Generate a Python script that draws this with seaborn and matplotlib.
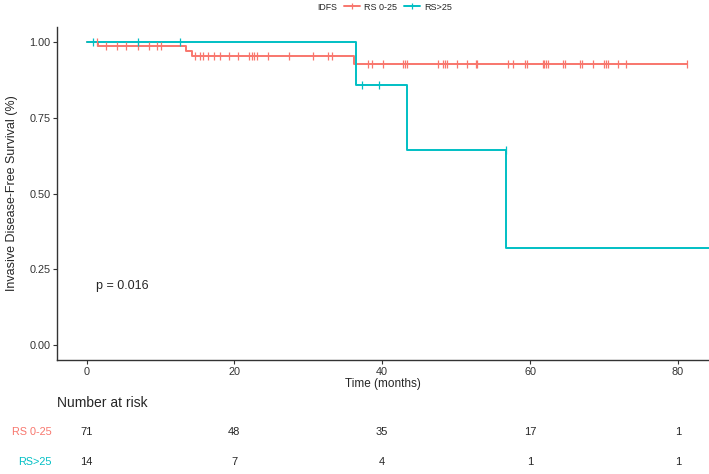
import numpy as np
import pandas as pd
import matplotlib.pyplot as plt
import matplotlib.transforms as mtransforms
from matplotlib.lines import Line2D
import seaborn as sns

# Kaplan-Meier step curves (months, survival)
groups = ["RS 0-25", "RS>25"]
colors = ["#F8766D", "#00BFC4"]

low_times = [0, 1.6, 13.4, 14.3, 36.2, 81.2]
low_surv = [1.0, 0.986, 0.970, 0.954, 0.927, 0.927]
high_times = [0, 36.5, 43.4, 56.8, 90]
high_surv = [1.0, 0.857, 0.643, 0.321, 0.321]

# censoring times
low_censor = [1.4, 2.6, 4.1, 5.4, 6.9, 8.4, 9.6, 10.1, 14.7, 15.3, 15.8, 16.5,
              17.2, 18.1, 19.3, 20.5, 22.0, 22.4, 22.7, 23.1, 24.5, 27.4, 30.7,
              32.6, 33.2, 38.1, 38.6, 40.1, 42.8, 43.1, 43.4, 47.6, 48.2, 48.5,
              48.8, 50.1, 51.4, 52.7, 52.8, 57.0, 57.7, 59.3, 59.6, 61.8, 61.9,
              62.2, 62.4, 64.5, 64.7, 66.8, 67.0, 68.5, 70.0, 70.3, 70.5, 71.9,
              73.0, 81.2]
high_censor = [0.9, 7.0, 12.7, 37.2, 39.6, 56.7]

# number at risk table
risk_times = [0, 20, 40, 60, 80]
risk_low = [71, 48, 35, 17, 1]
risk_high = [14, 7, 4, 1, 1]

p_text = "p = 0.016"


def step_value(times, surv, t):
    i = np.searchsorted(times, t, side="right") - 1
    return surv[i]


curves = pd.concat([
    pd.DataFrame({"time": low_times, "surv": low_surv, "group": groups[0]}),
    pd.DataFrame({"time": high_times, "surv": high_surv, "group": groups[1]}),
])
censors = pd.concat([
    pd.DataFrame({"time": low_censor,
                  "surv": [step_value(low_times, low_surv, t) for t in low_censor],
                  "group": groups[0]}),
    pd.DataFrame({"time": high_censor,
                  "surv": [step_value(high_times, high_surv, t) for t in high_censor],
                  "group": groups[1]}),
])
pal = dict(zip(groups, colors))

sns.set_style("ticks")
plt.rcParams["font.family"] = ["Liberation Sans", "DejaVu Sans"]

fig = plt.figure(figsize=(7.09, 4.74), dpi=100)
W, H = 709, 474
ax = fig.add_axes([57.3 / W, 1 - 360 / H, 1 - 57.3 / W, (360 - 27) / H])

sns.lineplot(data=curves, x="time", y="surv", hue="group", palette=pal,
             drawstyle="steps-post", estimator=None, sort=False,
             linewidth=1.4, legend=False, ax=ax)
for g in groups:
    sub = censors[censors["group"] == g]
    ax.plot(sub["time"], sub["surv"], linestyle="none", marker="|",
            markersize=5.5, markeredgewidth=0.9, color=pal[g])

ax.set_xlim(-3.95, 84.2)
ax.set_ylim(-0.05, 1.05)
ax.set_xticks(risk_times)
ax.set_yticks([0, 0.25, 0.5, 0.75, 1.0])
ax.set_yticklabels(["0.00", "0.25", "0.50", "0.75", "1.00"])
ax.tick_params(labelsize=7.8, length=3, width=0.8, colors="#333333", labelcolor="#333333", pad=2)
for s in ["left", "bottom"]:
    ax.spines[s].set_linewidth(1.0)
    ax.spines[s].set_color("#333333")
sns.despine(ax=ax)
ax.set_xlabel("Time (months)", fontsize=8.5, labelpad=1)
ax.set_ylabel("Invasive Disease-Free Survival (%)", fontsize=9, labelpad=8)

ax.text(1.3, 0.195, p_text, fontsize=9, va="center", ha="left")

# legend on top
fig.text(337 / W, 1 - 7 / H, "IDFS", fontsize=6.3, ha="right", va="center")
handles = [Line2D([0], [0], color=c, lw=1.4, marker="|", markersize=5, markeredgewidth=0.9)
           for c in colors]
fig.legend(handles, groups, loc="center left", bbox_to_anchor=(344 / W, 1 - 7 / H),
           ncol=2, frameon=False, fontsize=6.5, handlelength=1.8, handletextpad=0.4,
           columnspacing=0.8, borderaxespad=0, borderpad=0)

# number at risk table
trans = mtransforms.blended_transform_factory(ax.transData, fig.transFigure)
fig.text(57 / W, 1 - 403 / H, "Number at risk", fontsize=10, ha="left", va="center")
for row_y, label, col, vals in [(432, groups[0], colors[0], risk_low),
                                (462, groups[1], colors[1], risk_high)]:
    fig.text(52 / W, 1 - row_y / H, label, fontsize=7.8, color=col, ha="right", va="center")
    for t, v in zip(risk_times, vals):
        ax.text(t, 1 - row_y / H, str(v), transform=trans, fontsize=8,
                ha="center", va="center", clip_on=False)

fig.savefig("out.png", dpi=100)
